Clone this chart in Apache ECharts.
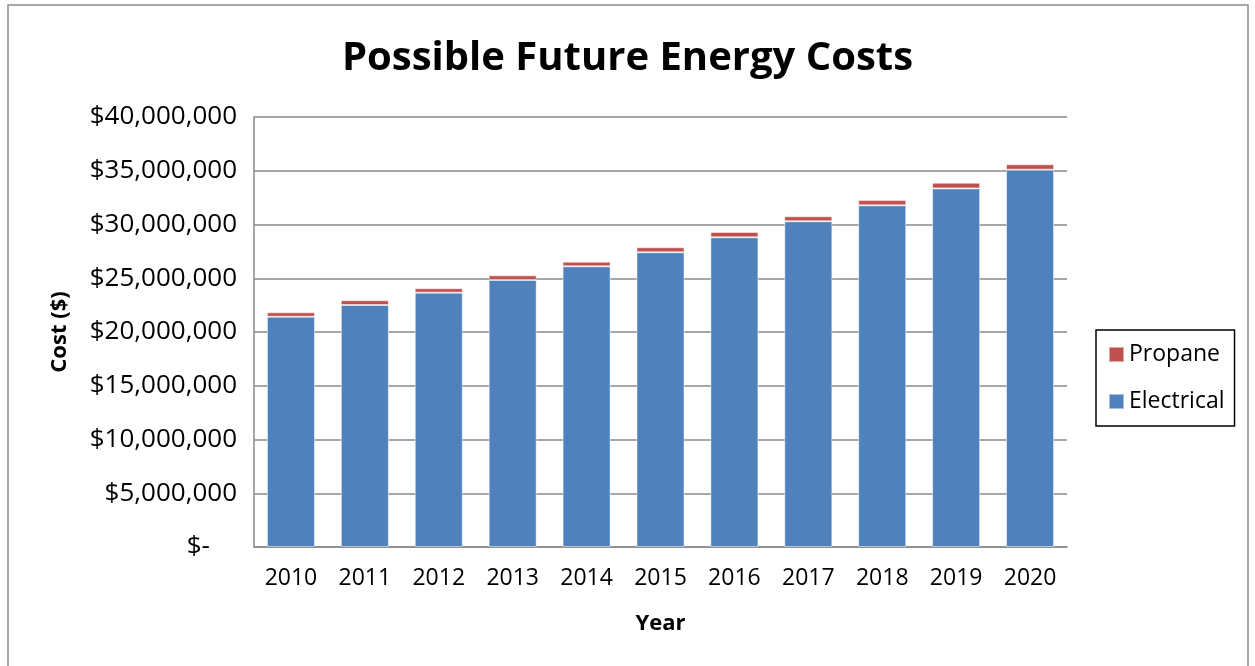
<!DOCTYPE html>
<html>
<head>
<meta charset="utf-8">
<script src="https://cdn.jsdelivr.net/npm/echarts@6/dist/echarts.min.js"></script>
<style>
  html, body { margin: 0; padding: 0; background: #fff; }
  #chart { width: 1255px; height: 666px; }
</style>
</head>
<body>
<div id="chart"></div>
<script>
// values, in dollars
const years = ['2010', '2011', '2012', '2013', '2014', '2015', '2016', '2017', '2018', '2019', '2020']
const electrical = [21420000, 22510000, 23660000, 24840000, 26110000, 27410000, 28810000, 30300000, 31780000, 33360000, 35100000]
const propane = [410000, 440000, 410000, 430000, 430000, 470000, 490000, 460000, 490000, 520000, 500000]

const font = '"Open Sans", sans-serif'
const gridColor = '#8a8a8a'

// accounting style labels like Excel: $- for zero
function money(v) {
  if (v === 0) return '$-    '
  return '$' + v.toLocaleString('en-US')
}

const chart = echarts.init(document.getElementById('chart'))
chart.setOption({
  animation: false,
  textStyle: { fontFamily: font, color: '#000' },
  title: {
    text: 'Possible Future Energy Costs',
    left: 'center',
    top: 34,
    textStyle: { fontSize: 40, fontWeight: 'bold', fontFamily: font, color: '#000' }
  },
  graphic: [
    {
      // outer chart frame
      type: 'rect',
      shape: { x: 8, y: 5, width: 1240, height: 700 },
      style: { fill: null, stroke: '#8c8c8c', lineWidth: 1.5 },
      silent: true
    }
  ],
  legend: {
    data: ['Propane', 'Electrical'],
    orient: 'vertical',
    left: 1096,
    top: 330,
    padding: [13, 10, 13, 12],
    itemGap: 24,
    itemWidth: 15,
    itemHeight: 15,
    icon: 'rect',
    borderColor: '#000',
    borderWidth: 1.5,
    textStyle: { fontSize: 23, fontFamily: font, color: '#000' }
  },
  grid: {
    left: 254,
    right: 188,
    top: 117,
    bottom: 119
  },
  xAxis: {
    type: 'category',
    data: years,
    name: 'Year',
    nameLocation: 'middle',
    nameGap: 66,
    nameTextStyle: { fontSize: 22, fontWeight: 'bold', color: '#000' },
    axisLine: { lineStyle: { color: gridColor, width: 1.5 } },
    axisTick: { show: false },
    axisLabel: { fontSize: 23, margin: 20, color: '#000' }
  },
  yAxis: {
    type: 'value',
    min: 0,
    max: 40000000,
    interval: 5000000,
    name: 'Cost ($)',
    nameLocation: 'middle',
    nameGap: 183,
    nameTextStyle: { fontSize: 22, fontWeight: 'bold', color: '#000' },
    axisLine: { show: true, lineStyle: { color: gridColor, width: 1.5 } },
    axisTick: { show: false },
    splitLine: { lineStyle: { color: gridColor, width: 1.5 } },
    axisLabel: { fontSize: 26, margin: 17, color: '#000', formatter: money }
  },
  series: [
    {
      name: 'Electrical',
      type: 'bar',
      stack: 'cost',
      barCategoryGap: '35%',
      data: electrical,
      itemStyle: { color: '#4F81BD', borderColor: 'rgba(255,255,255,0.5)', borderWidth: 1 }
    },
    {
      name: 'Propane',
      type: 'bar',
      stack: 'cost',
      data: propane,
      itemStyle: { color: '#C0504D', borderColor: 'rgba(255,255,255,0.5)', borderWidth: 1 }
    }
  ]
})
</script>
</body>
</html>
